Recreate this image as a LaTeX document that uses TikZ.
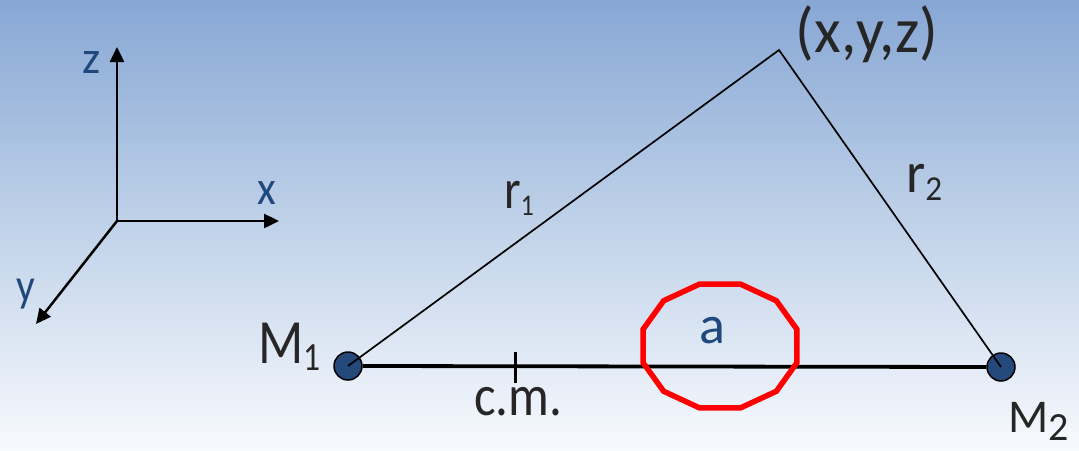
\documentclass[tikz,border=0pt]{standalone}
\usepackage{fontspec}
\setmainfont{Carlito}
\usepackage{graphicx}
\usetikzlibrary{arrows.meta}
\definecolor{bgtop}{RGB}{135,167,212}
\definecolor{bgmid}{RGB}{192,210,233}
\definecolor{bgbot}{RGB}{248,250,254}
\definecolor{axisblue}{RGB}{31,73,125}
\definecolor{massblue}{RGB}{36,73,122}
\definecolor{txt}{RGB}{38,38,38}
\newcommand{\fs}[1]{\fontsize{#1}{#1}\selectfont}
\newcommand{\lab}[3]{\fs{#1}\scalebox{#2}[1]{#3}}
\newcommand{\subs}[3]{\raisebox{-#2pt}{\fs{#1}#3}}
\begin{document}
\begin{tikzpicture}[x=1pt,y=-1pt,
  axis/.style={line width=2.5pt, -{Triangle[length=15pt,width=14pt]}},
  lbl/.style={inner sep=0pt, text=txt},
  axlbl/.style={inner sep=0pt, text=axisblue},
  thinline/.style={line width=1.7pt},
  thickline/.style={line width=3.8pt},
  tick/.style={line width=3pt},
  ring/.style={draw=red, line width=5.5pt, line join=miter},
  mass/.style={circle, draw=black, line width=1.5pt, fill=massblue, minimum size=28pt, inner sep=0pt}]
\shade[top color=bgtop, bottom color=bgbot, middle color=bgmid] (0,0) rectangle (1079,450);
\useasboundingbox (0,0) rectangle (1079,450);
% axes
\coordinate (O) at (117,221);
\coordinate (Zend) at (117,47);
\coordinate (Xend) at (279,221);
\coordinate (Yend) at (36,324);
\draw[axis] (O) -- (Zend);
\draw[axis] (O) -- (Xend);
\draw[axis] (O) -- (Yend);
\node[axlbl, anchor=base] (zl) at (92,73) {\lab{46}{1}{z}};
\node[axlbl, anchor=base] (xl) at (267,204) {\lab{48}{0.9}{x}};
\node[axlbl, anchor=base] (yl) at (26,301) {\lab{47}{0.88}{y}};
% masses and triangle
\node[mass] (M1) at (348,366) {};
\node[mass] (M2) at (1001,367) {};
\coordinate (P) at (779,50);
\draw[thickline] (M1.east) -- (M2.west);
\draw[thinline] (M1.center) -- (P) -- (M2.center);
\coordinate (cmtop) at (515,352);
\coordinate (cmbot) at (515,383);
\draw[tick] (cmtop) -- (cmbot);
% red ring
\draw[ring, shift={(720,346)}] (15:79.7 and 64)
  \foreach \a in {45,75,...,345} { -- (\a:79.7 and 64) } -- cycle;
% labels
\node[lbl, anchor=base] (xyz) at (867,52) {\lab{64}{0.96}{(x,y,z)}};
\node[lbl, anchor=base west] (r1) at (504,208) {\lab{56}{0.85}{r\subs{30}{7}{1}}};
\node[lbl, anchor=base west] (r2) at (906,192) {\lab{58}{0.95}{r\subs{35}{8}{2}}};
\node[lbl, anchor=base west] (m1l) at (258,363) {\lab{63}{0.84}{M\subs{40}{7}{1}}};
\node[lbl, anchor=base west] (m2l) at (1008,432) {\lab{47}{1}{M\subs{40}{8}{2}}};
\node[lbl, anchor=base west] (cml) at (474,415) {\lab{58}{0.88}{c.m.}};
\node[axlbl, anchor=base] (al) at (712,343) {\lab{54}{1}{a}};
\end{tikzpicture}
\end{document}
